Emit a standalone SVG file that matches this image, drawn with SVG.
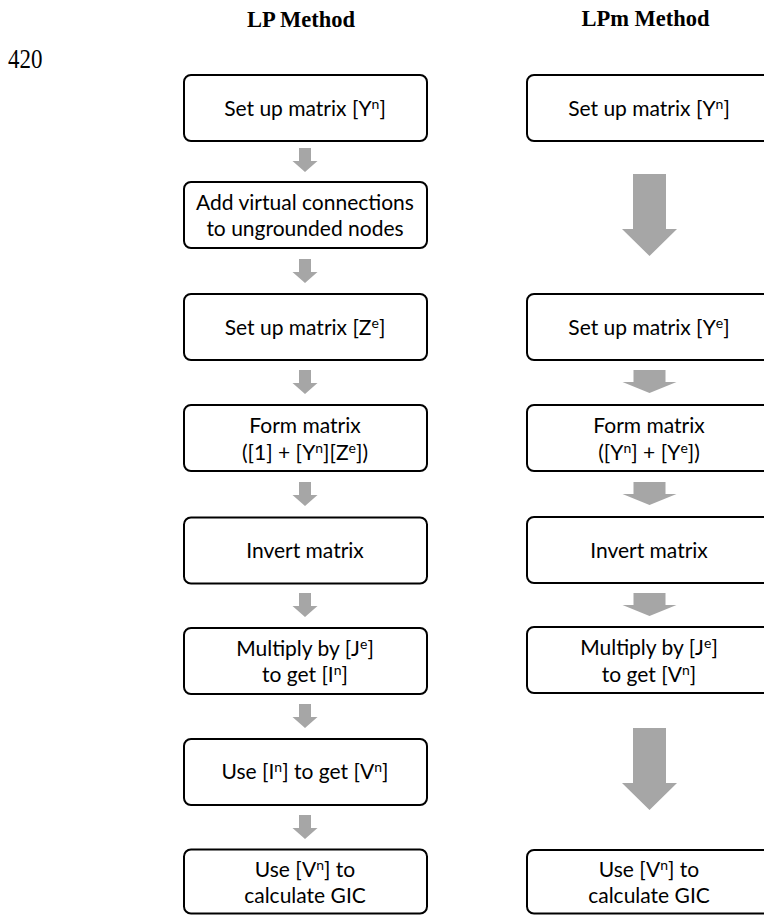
<svg xmlns="http://www.w3.org/2000/svg" width="764" height="915" viewBox="0 0 764 915">
<style>
.box{fill:#fff;stroke:#000;stroke-width:2}
.t{font-family:Lato,"Open Sans","DejaVu Sans",sans-serif;font-size:21px;fill:#000;text-anchor:middle}
.sup{font-size:14px}
.title{font-family:"Liberation Serif","Times New Roman",serif;font-weight:bold;font-size:22.5px;fill:#000;text-anchor:middle}
.num{font-family:"Liberation Serif","Times New Roman",serif;font-size:23px;fill:#000}
.arr{fill:#a6a6a6}
</style>
<defs>
<path id="sa" d="M-6,0 H6 V13 H12.5 L0,24 L-12.5,13 H-6 Z"/>
<path id="ma" d="M-16,0 H16 V12 H27 L0,23 L-27,12 H-16 Z"/>
<path id="ba" d="M-16.5,0 H16.5 V55 H27.5 L0,82 L-27.5,55 H-16.5 Z"/>
</defs>
<rect width="764" height="915" fill="#fff"/>
<text class="title" x="301" y="26.5">LP Method</text>
<text class="title" x="645.5" y="26">LPm Method</text>
<text class="num" transform="translate(8,68) scale(1,1.22)">420</text>

<g id="lp-1"><rect class="box" x="184" y="75" width="243" height="66" rx="7"/><text class="t" x="305" y="115.5">Set up matrix [Y<tspan class="sup" dy="-7">n</tspan><tspan dy="7">]</tspan></text></g>
<g id="lp-2"><rect class="box" x="184" y="182" width="243" height="66" rx="7"/><text class="t" x="305" y="210">Add virtual connections</text><text class="t" x="305" y="236">to ungrounded nodes</text></g>
<g id="lp-3"><rect class="box" x="184" y="294" width="243" height="66" rx="7"/><text class="t" x="305" y="335">Set up matrix [Z<tspan class="sup" dy="-7">e</tspan><tspan dy="7">]</tspan></text></g>
<g id="lp-4"><rect class="box" x="184" y="405" width="243" height="66" rx="7"/><text class="t" x="305" y="433">Form matrix</text><text class="t" x="305" y="459.5">([1] + [Y<tspan class="sup" dy="-7">n</tspan><tspan dy="7">][Z</tspan><tspan class="sup" dy="-7">e</tspan><tspan dy="7">])</tspan></text></g>
<g id="lp-5"><rect class="box" x="184" y="517.5" width="243" height="66" rx="7"/><text class="t" x="305" y="558">Invert matrix</text></g>
<g id="lp-6"><rect class="box" x="184" y="628" width="243" height="66" rx="7"/><text class="t" x="305" y="655.5">Multiply by [J<tspan class="sup" dy="-7">e</tspan><tspan dy="7">]</tspan></text><text class="t" x="305" y="682">to get [I<tspan class="sup" dy="-7">n</tspan><tspan dy="7">]</tspan></text></g>
<g id="lp-7"><rect class="box" x="184" y="739" width="243" height="66" rx="7"/><text class="t" x="305" y="779">Use [I<tspan class="sup" dy="-7">n</tspan><tspan dy="7">] to get [V</tspan><tspan class="sup" dy="-7">n</tspan><tspan dy="7">]</tspan></text></g>
<g id="lp-8"><rect class="box" x="184" y="849.5" width="243" height="64" rx="7"/><text class="t" x="305" y="876.5">Use [V<tspan class="sup" dy="-7">n</tspan><tspan dy="7">] to</tspan></text><text class="t" x="305" y="902.5">calculate GIC</text></g>

<g id="lpm-1"><rect class="box" x="527" y="75" width="250" height="66" rx="7"/><text class="t" x="649" y="115.5">Set up matrix [Y<tspan class="sup" dy="-7">n</tspan><tspan dy="7">]</tspan></text></g>
<g id="lpm-3"><rect class="box" x="527" y="294" width="250" height="66" rx="7"/><text class="t" x="649" y="335">Set up matrix [Y<tspan class="sup" dy="-7">e</tspan><tspan dy="7">]</tspan></text></g>
<g id="lpm-4"><rect class="box" x="527" y="405" width="250" height="66" rx="7"/><text class="t" x="649" y="433">Form matrix</text><text class="t" x="649" y="459.5">([Y<tspan class="sup" dy="-7">n</tspan><tspan dy="7">] + [Y</tspan><tspan class="sup" dy="-7">e</tspan><tspan dy="7">])</tspan></text></g>
<g id="lpm-5"><rect class="box" x="527" y="517" width="250" height="66" rx="7"/><text class="t" x="649" y="558">Invert matrix</text></g>
<g id="lpm-6"><rect class="box" x="527" y="627" width="250" height="66" rx="7"/><text class="t" x="649" y="655">Multiply by [J<tspan class="sup" dy="-7">e</tspan><tspan dy="7">]</tspan></text><text class="t" x="649" y="681.5">to get [V<tspan class="sup" dy="-7">n</tspan><tspan dy="7">]</tspan></text></g>
<g id="lpm-8"><rect class="box" x="527" y="850" width="250" height="63.5" rx="7"/><text class="t" x="649" y="876.5">Use [V<tspan class="sup" dy="-7">n</tspan><tspan dy="7">] to</tspan></text><text class="t" x="649" y="902.5">calculate GIC</text></g>

<g id="connectors" class="arr">
<use href="#sa" x="305" y="148"/>
<use href="#sa" x="305" y="259"/>
<use href="#sa" x="305" y="370"/>
<use href="#sa" x="305" y="482"/>
<use href="#sa" x="305" y="593"/>
<use href="#sa" x="305" y="704"/>
<use href="#sa" x="305" y="815"/>
<use href="#ba" x="649.5" y="174"/>
<use href="#ma" x="649.5" y="370"/>
<use href="#ma" x="649.5" y="482"/>
<use href="#ma" x="649.5" y="593"/>
<use href="#ba" x="649.5" y="728"/>
</g>
</svg>
